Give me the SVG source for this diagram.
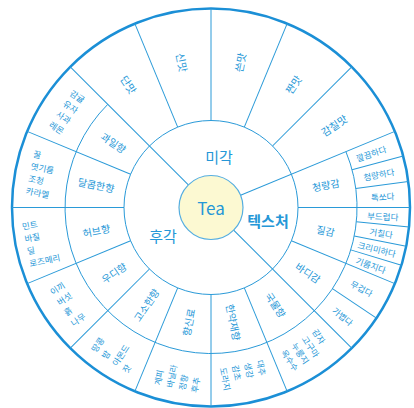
<svg xmlns="http://www.w3.org/2000/svg" width="414" height="408" viewBox="0 0 414 408">
<style>
.ln{stroke:#2a9ad8;stroke-width:1;fill:none}
.outer{stroke:#1b8fd6;stroke-width:2.5;fill:none}
text{font-family:"Noto Sans CJK KR","Noto Sans",sans-serif;fill:#2597d7;dominant-baseline:central;text-anchor:middle}
.cat{font-size:15px}
.bold{font-weight:bold}
.mid{font-size:10px}
.fl{font-size:10.5px}
.sub{font-size:8.5px}
.lst{font-size:8.5px;text-anchor:start}
</style>
<rect width="414" height="408" fill="#ffffff"/>
<g transform="translate(211,207.5)">
<g id="connectors">
<circle class="outer" r="199"/>
<circle class="ln" r="87"/>
<path class="ln" d="M134.9,-55.9 A146,146 0 1 1 -103.2,-103.2"/>
<line class="ln" x1="32" x2="199" transform="rotate(-135)"/>
<line class="ln" x1="32" x2="199" transform="rotate(-22.5)"/>
<line class="ln" x1="32" x2="199" transform="rotate(45)"/>
<line class="ln" x1="87" x2="199" transform="rotate(-112.5)"/>
<line class="ln" x1="87" x2="199" transform="rotate(-90)"/>
<line class="ln" x1="87" x2="199" transform="rotate(-67.5)"/>
<line class="ln" x1="87" x2="199" transform="rotate(-45)"/>
<line class="ln" x1="87" x2="199" transform="rotate(0)"/>
<line class="ln" x1="87" x2="199" transform="rotate(22.5)"/>
<line class="ln" x1="87" x2="199" transform="rotate(67.5)"/>
<line class="ln" x1="87" x2="199" transform="rotate(90)"/>
<line class="ln" x1="87" x2="199" transform="rotate(112.5)"/>
<line class="ln" x1="87" x2="199" transform="rotate(135)"/>
<line class="ln" x1="87" x2="199" transform="rotate(157.5)"/>
<line class="ln" x1="87" x2="199" transform="rotate(180)"/>
<line class="ln" x1="87" x2="199" transform="rotate(202.5)"/>
<line class="ln" x1="146" x2="199" transform="rotate(-15)"/>
<line class="ln" x1="146" x2="199" transform="rotate(-7.5)"/>
<line class="ln" x1="146" x2="199" transform="rotate(5.625)"/>
<line class="ln" x1="146" x2="199" transform="rotate(11.25)"/>
<line class="ln" x1="146" x2="199" transform="rotate(16.875)"/>
<line class="ln" x1="146" x2="199" transform="rotate(33.75)"/>
</g>
<g id="tea">
<circle r="32" fill="#fcf9d2" stroke="#55aee0" stroke-width="1.2"/>
<text x="0" y="0" style="font-size:17px">Tea</text>
</g>
<g id="cat-taste"><text class="cat" x="8" y="-51.5">미각</text></g>
<g id="cat-texture"><text class="cat bold" x="57" y="12.5">텍스처</text></g>
<g id="cat-aroma"><text class="cat" x="-48" y="27.5">후각</text></g>

<g id="sweet"><text class="fl" transform="rotate(-123.75) translate(148,0) rotate(180)">단맛</text></g>
<g id="sour"><text class="fl" transform="rotate(-101.25) translate(148,0) rotate(180)">신맛</text></g>
<g id="bitter"><text class="fl" transform="rotate(-78.75) translate(148,0)">쓴맛</text></g>
<g id="salty"><text class="fl" transform="rotate(-56.25) translate(148,0)">짠맛</text></g>
<g id="umami"><text class="fl" transform="rotate(-33.75) translate(148,0)">감칠맛</text></g>

<g id="fresh"><text class="mid" transform="rotate(-11.25) translate(117,0)">청량감</text></g>
<g id="feel"><text class="mid" transform="rotate(11.25) translate(117,0)">질감</text></g>
<g id="body"><text class="mid" transform="rotate(33.75) translate(117,0)">바디감</text></g>

<g id="clean"><text class="sub" transform="rotate(-18.75) translate(169,0)">깔끔하다</text></g>
<g id="cool"><text class="sub" transform="rotate(-11.25) translate(171,0)">청량하다</text></g>
<g id="fizzy"><text class="sub" transform="rotate(-3.75) translate(172,0)">톡쏘다</text></g>
<g id="soft"><text class="sub" transform="rotate(2.8) translate(172,0)">부드럽다</text></g>
<g id="rough"><text class="sub" transform="rotate(8.4) translate(172,0)">거칠다</text></g>
<g id="creamy"><text class="sub" transform="rotate(14) translate(171,0)">크리미하다</text></g>
<g id="oily"><text class="sub" transform="rotate(19.7) translate(170,0)">기름지다</text></g>
<g id="heavy"><text class="sub" transform="rotate(28.1) translate(171,0)">무겁다</text></g>
<g id="light"><text class="sub" transform="rotate(39.4) translate(171,0)">가볍다</text></g>

<g id="broth"><text class="mid" transform="rotate(56.25) translate(117,0)">국물향</text></g>
<g id="herbal-med"><text class="mid" transform="rotate(78.75) translate(117,0)">한약재향</text></g>
<g id="spice"><text class="mid" transform="rotate(101.25) translate(117,0) rotate(180)">향신료</text></g>
<g id="nutty"><text class="mid" transform="rotate(123.75) translate(117,0) rotate(180)">고소한향</text></g>
<g id="woody"><text class="mid" transform="rotate(146.25) translate(117,0) rotate(180)">우디향</text></g>
<g id="herb"><text class="mid" transform="rotate(168.75) translate(117,0) rotate(180)">허브향</text></g>
<g id="sweet-aroma"><text class="mid" transform="rotate(191.25) translate(117,0) rotate(180)">달콤한향</text></g>
<g id="fruity"><text class="mid" transform="rotate(213.75) translate(117,0) rotate(180)">과일향</text></g>

<g id="broth-list"><text class="lst" transform="rotate(56.25) translate(172,0)"><tspan x="-12.75" y="-18.75">감자</tspan><tspan x="-12.75" y="-6.25">고구마</tspan><tspan x="-12.75" y="6.25">누룽지</tspan><tspan x="-12.75" y="18.75">옥수수</tspan></text></g>
<g id="herbal-med-list"><text class="lst" transform="rotate(78.75) translate(172,0)"><tspan x="-12.75" y="-18.75">대추</tspan><tspan x="-12.75" y="-6.25">생강</tspan><tspan x="-12.75" y="6.25">감초</tspan><tspan x="-12.75" y="18.75">도라지</tspan></text></g>
<g id="spice-list"><text class="lst" transform="rotate(101.25) translate(172,0) rotate(180)"><tspan x="-12.75" y="-18.75">계피</tspan><tspan x="-12.75" y="-6.25">바닐라</tspan><tspan x="-12.75" y="6.25">정향</tspan><tspan x="-12.75" y="18.75">후추</tspan></text></g>
<g id="nutty-list"><text class="lst" transform="rotate(123.75) translate(172,0) rotate(180)"><tspan x="-12.75" y="-18.75">땅콩</tspan><tspan x="-12.75" y="-6.25">밤</tspan><tspan x="-12.75" y="6.25">아몬드</tspan><tspan x="-12.75" y="18.75">잣</tspan></text></g>
<g id="woody-list"><text class="lst" transform="rotate(146.25) translate(172,0) rotate(180)"><tspan x="-8.5" y="-18.75">이끼</tspan><tspan x="-8.5" y="-6.25">버섯</tspan><tspan x="-8.5" y="6.25">흙</tspan><tspan x="-8.5" y="18.75">나무</tspan></text></g>
<g id="herb-list"><text class="lst" transform="rotate(168.75) translate(172,0) rotate(180)"><tspan x="-17" y="-18.75">민트</tspan><tspan x="-17" y="-6.25">바질</tspan><tspan x="-17" y="6.25">딜</tspan><tspan x="-17" y="18.75">로즈메리</tspan></text></g>
<g id="sweet-list"><text class="lst" transform="rotate(191.25) translate(172,0) rotate(180)"><tspan x="-12.75" y="-18.75">꿀</tspan><tspan x="-12.75" y="-6.25">엿기름</tspan><tspan x="-12.75" y="6.25">조청</tspan><tspan x="-12.75" y="18.75">카라멜</tspan></text></g>
<g id="fruity-list"><text class="lst" transform="rotate(213.75) translate(172,0) rotate(180)"><tspan x="-8.5" y="-18.75">감귤</tspan><tspan x="-8.5" y="-6.25">유자</tspan><tspan x="-8.5" y="6.25">사과</tspan><tspan x="-8.5" y="18.75">레몬</tspan></text></g>
</g>
</svg>
